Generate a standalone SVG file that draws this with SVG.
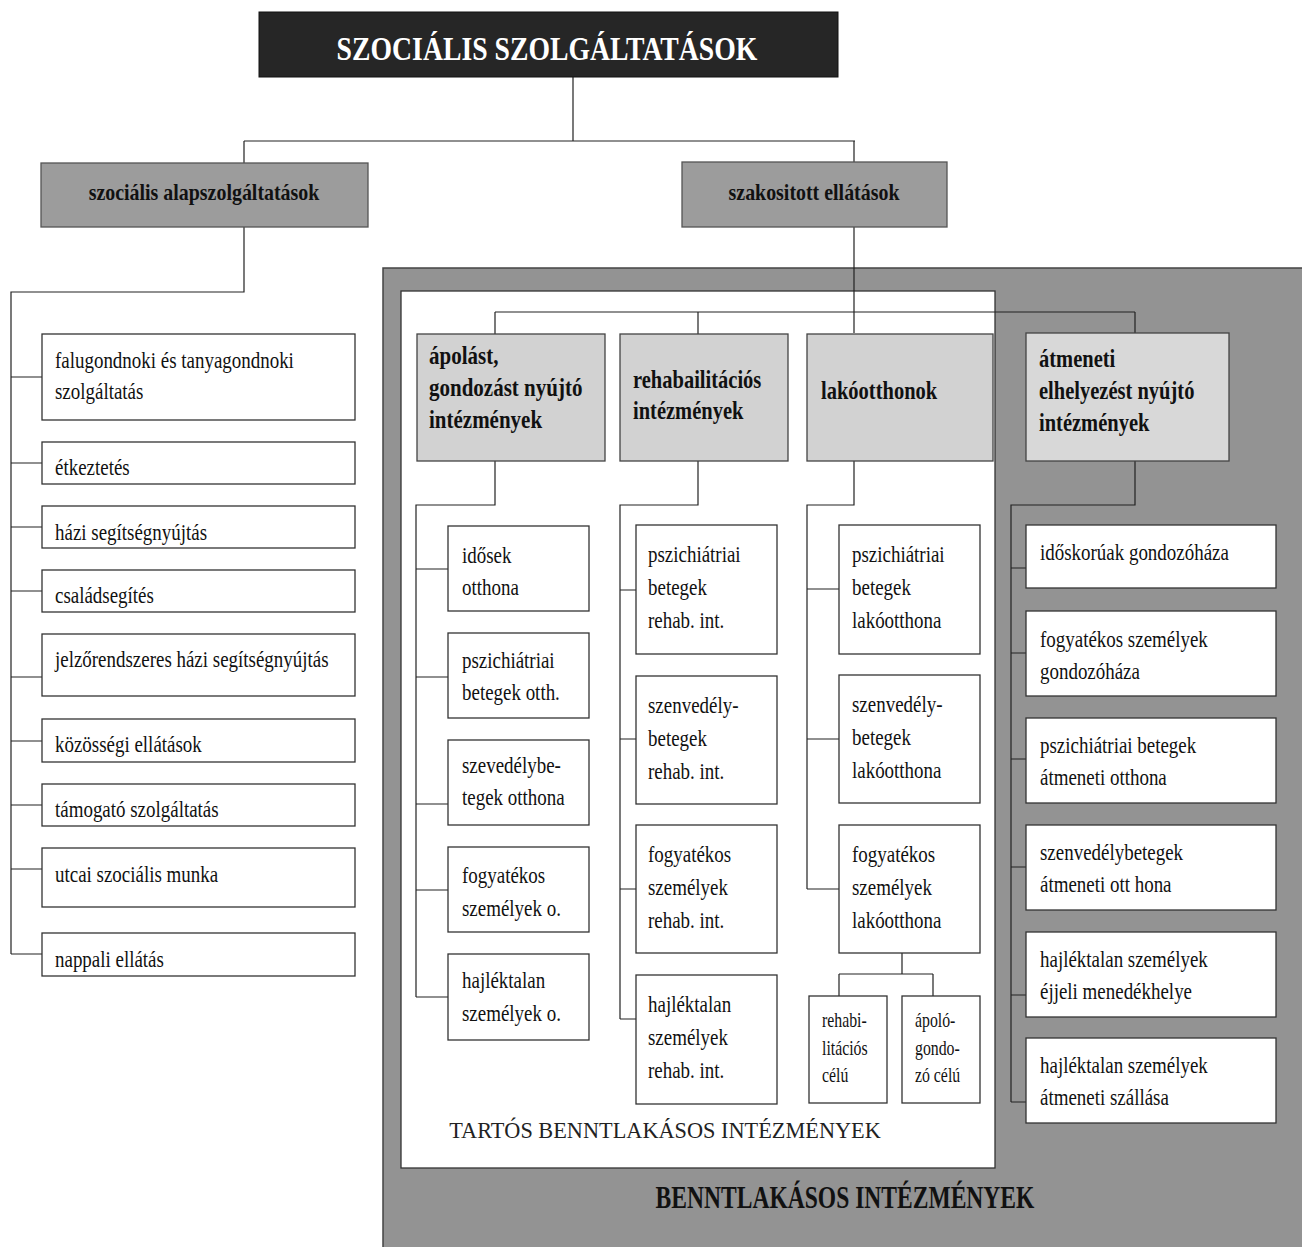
<svg xmlns="http://www.w3.org/2000/svg" width="1302" height="1247" viewBox="0 0 1302 1247">
<style>
.t{font-family:"Liberation Serif","Times New Roman",serif;font-size:24px;fill:#111}
.b{font-weight:bold}
.box{fill:#fff;stroke:#333;stroke-width:1.3}
.hdr{fill:#d2d2d2;stroke:#444;stroke-width:1.3}
.mid{fill:#9c9c9c;stroke:#555;stroke-width:1.3}
.con{stroke:#222;stroke-width:1.2;fill:none}
</style>
<rect width="1302" height="1247" fill="#fff"/>

<g id="containers">
<rect x="383" y="268" width="925" height="985" fill="#939393" stroke="#444" stroke-width="1.5"/>
<rect x="401" y="291" width="594" height="877" fill="#fff" stroke="#333" stroke-width="1.3"/>
<text class="t" transform="translate(665,1138) scale(.97 1)" text-anchor="middle" style="font-size:23px;fill:#222">TARTÓS BENNTLAKÁSOS INTÉZMÉNYEK</text>
<text class="t b" transform="translate(845,1208) scale(.76 1)" text-anchor="middle" style="font-size:31px">BENNTLAKÁSOS INTÉZMÉNYEK</text>
</g>

<g id="connectors">
<path class="con" d="M573 77V141M244 141H855M244 141V163M854 141V163"/>
<path class="con" d="M244 227V292H11V954"/>
<path class="con" d="M11 377H42M11 463H42M11 527H42M11 591H42M11 677H42M11 741H42M11 805H42M11 869H42M11 954H42"/>
<path class="con" d="M854 227V333M495 312H1135M495 312V334M698 312V334M1135 312V333"/>
<path class="con" d="M495 461V505H416V997M416 569H448M416 677H448M416 804H448M416 890H448M416 997H448"/>
<path class="con" d="M698 461V505H620V1019M620 590H636M620 739H636M620 889H636M620 1019H636"/>
<path class="con" d="M854 461V505H807V889M807 589H839M807 739H839M807 889H839"/>
<path class="con" d="M902 953V974M839 974H933M839 974V996M933 974V996"/>
<path class="con" d="M1135 461V505H1011V1102M1011 568H1026M1011 653H1026M1011 759H1026M1011 867H1026M1011 995H1026M1011 1102H1026"/>
</g>

<g id="title">
<rect x="259" y="12" width="579" height="65" fill="#262626" stroke="#111"/>
<text class="t b" transform="translate(547,60) scale(.84 1)" text-anchor="middle" style="font-size:33px;fill:#fff">SZOCIÁLIS SZOLGÁLTATÁSOK</text>
</g>

<g id="alap">
<rect class="mid" x="41" y="163" width="327" height="64"/>
<text class="t b" transform="translate(204,200) scale(.83 1)" text-anchor="middle">szociális  alapszolgáltatások</text>
</g>
<g id="szak">
<rect class="mid" x="682" y="162" width="265" height="65"/>
<text class="t b" transform="translate(814,200) scale(.83 1)" text-anchor="middle">szakositott ellátások</text>
</g>

<g id="falu"><rect class="box" x="42" y="334" width="313" height="86"/>
<text class="t" transform="translate(55,368) scale(.79 1)"><tspan x="0">falugondnoki  és tanyagondnoki</tspan><tspan x="0" dy="31">szolgáltatás</tspan></text></g>
<g id="etk"><rect class="box" x="42" y="442" width="313" height="42"/>
<text class="t" transform="translate(55,475) scale(.79 1)">étkeztetés</text></g>
<g id="hazi"><rect class="box" x="42" y="506" width="313" height="42"/>
<text class="t" transform="translate(55,540) scale(.79 1)">házi segítségnyújtás</text></g>
<g id="csal"><rect class="box" x="42" y="570" width="313" height="42"/>
<text class="t" transform="translate(55,603) scale(.79 1)">családsegítés</text></g>
<g id="jelzo"><rect class="box" x="42" y="634" width="313" height="62"/>
<text class="t" transform="translate(55,667) scale(.79 1)">jelzőrendszeres házi segítségnyújtás</text></g>
<g id="kozos"><rect class="box" x="42" y="719" width="313" height="43"/>
<text class="t" transform="translate(55,752) scale(.79 1)">közösségi ellátások</text></g>
<g id="tamog"><rect class="box" x="42" y="784" width="313" height="42"/>
<text class="t" transform="translate(55,817) scale(.79 1)">támogató szolgáltatás</text></g>
<g id="utcai"><rect class="box" x="42" y="848" width="313" height="59"/>
<text class="t" transform="translate(55,882) scale(.79 1)">utcai szociális munka</text></g>
<g id="nappali"><rect class="box" x="42" y="933" width="313" height="43"/>
<text class="t" transform="translate(55,967) scale(.79 1)">nappali ellátás</text></g>

<g id="apolast"><rect class="hdr" x="417" y="334" width="188" height="127"/>
<text class="t b" transform="translate(429,364) scale(.84 1)" style="font-size:25px"><tspan x="0">ápolást,</tspan><tspan x="0" dy="32">gondozást nyújtó</tspan><tspan x="0" dy="32">intézmények</tspan></text></g>
<g id="rehab"><rect class="hdr" x="620" y="334" width="168" height="127"/>
<text class="t b" transform="translate(633,388) scale(.82 1)" style="font-size:25px"><tspan x="0">rehabailitációs</tspan><tspan x="0" dy="31">intézmények</tspan></text></g>
<g id="lako"><rect class="hdr" x="807" y="334" width="186" height="127"/>
<text class="t b" transform="translate(821,399) scale(.82 1)" style="font-size:25px">lakóotthonok</text></g>
<g id="atmeneti"><rect class="hdr" x="1026" y="333" width="203" height="128" style="fill:#d8d8d8"/>
<text class="t b" transform="translate(1039,367) scale(.82 1)" style="font-size:25px"><tspan x="0">átmeneti</tspan><tspan x="0" dy="32">elhelyezést nyújtó</tspan><tspan x="0" dy="32">intézmények</tspan></text></g>

<g id="idosek"><rect class="box" x="448" y="526" width="141" height="85"/>
<text class="t" transform="translate(462,563) scale(.79 1)"><tspan x="0">idősek</tspan><tspan x="0" dy="32">otthona</tspan></text></g>
<g id="pszi1"><rect class="box" x="448" y="633" width="141" height="85"/>
<text class="t" transform="translate(462,668) scale(.79 1)"><tspan x="0">pszichiátriai</tspan><tspan x="0" dy="32">betegek otth.</tspan></text></g>
<g id="szev1"><rect class="box" x="448" y="740" width="141" height="85"/>
<text class="t" transform="translate(462,773) scale(.79 1)"><tspan x="0">szevedélybe-</tspan><tspan x="0" dy="32">tegek otthona</tspan></text></g>
<g id="fogy1"><rect class="box" x="448" y="847" width="141" height="85"/>
<text class="t" transform="translate(462,883) scale(.79 1)"><tspan x="0">fogyatékos</tspan><tspan x="0" dy="33">személyek o.</tspan></text></g>
<g id="hajl1"><rect class="box" x="448" y="954" width="141" height="86"/>
<text class="t" transform="translate(462,988) scale(.79 1)"><tspan x="0">hajléktalan</tspan><tspan x="0" dy="33">személyek o.</tspan></text></g>

<g id="pszi2"><rect class="box" x="636" y="525" width="141" height="129"/>
<text class="t" transform="translate(648,562) scale(.79 1)"><tspan x="0">pszichiátriai</tspan><tspan x="0" dy="33">betegek</tspan><tspan x="0" dy="33">rehab. int.</tspan></text></g>
<g id="szenv2"><rect class="box" x="636" y="676" width="141" height="128"/>
<text class="t" transform="translate(648,713) scale(.79 1)"><tspan x="0">szenvedély-</tspan><tspan x="0" dy="33">betegek</tspan><tspan x="0" dy="33">rehab. int.</tspan></text></g>
<g id="fogy2"><rect class="box" x="636" y="825" width="141" height="128"/>
<text class="t" transform="translate(648,862) scale(.79 1)"><tspan x="0">fogyatékos</tspan><tspan x="0" dy="33">személyek</tspan><tspan x="0" dy="33">rehab. int.</tspan></text></g>
<g id="hajl2"><rect class="box" x="636" y="975" width="141" height="129"/>
<text class="t" transform="translate(648,1012) scale(.79 1)"><tspan x="0">hajléktalan</tspan><tspan x="0" dy="33">személyek</tspan><tspan x="0" dy="33">rehab. int.</tspan></text></g>

<g id="pszi3"><rect class="box" x="839" y="525" width="141" height="129"/>
<text class="t" transform="translate(852,562) scale(.79 1)"><tspan x="0">pszichiátriai</tspan><tspan x="0" dy="33">betegek</tspan><tspan x="0" dy="33">lakóotthona</tspan></text></g>
<g id="szenv3"><rect class="box" x="839" y="675" width="141" height="128"/>
<text class="t" transform="translate(852,712) scale(.79 1)"><tspan x="0">szenvedély-</tspan><tspan x="0" dy="33">betegek</tspan><tspan x="0" dy="33">lakóotthona</tspan></text></g>
<g id="fogy3"><rect class="box" x="839" y="825" width="141" height="128"/>
<text class="t" transform="translate(852,862) scale(.79 1)"><tspan x="0">fogyatékos</tspan><tspan x="0" dy="33">személyek</tspan><tspan x="0" dy="33">lakóotthona</tspan></text></g>
<g id="rehabcelu"><rect class="box" x="809" y="996" width="78" height="107"/>
<text class="t" transform="translate(822,1027) scale(.79 1)" style="font-size:20px"><tspan x="0">rehabi-</tspan><tspan x="0" dy="28">litációs</tspan><tspan x="0" dy="27">célú</tspan></text></g>
<g id="apolocelu"><rect class="box" x="902" y="996" width="78" height="107"/>
<text class="t" transform="translate(915,1027) scale(.79 1)" style="font-size:20px"><tspan x="0">ápoló-</tspan><tspan x="0" dy="28">gondo-</tspan><tspan x="0" dy="27">zó célú</tspan></text></g>

<g id="idoskor"><rect class="box" x="1026" y="525" width="250" height="63"/>
<text class="t" transform="translate(1040,560) scale(.79 1)">időskorúak gondozóháza</text></g>
<g id="fogy4"><rect class="box" x="1026" y="611" width="250" height="85"/>
<text class="t" transform="translate(1040,647) scale(.79 1)"><tspan x="0">fogyatékos személyek</tspan><tspan x="0" dy="32">gondozóháza</tspan></text></g>
<g id="pszi4"><rect class="box" x="1026" y="718" width="250" height="85"/>
<text class="t" transform="translate(1040,753) scale(.79 1)"><tspan x="0">pszichiátriai betegek</tspan><tspan x="0" dy="32">átmeneti otthona</tspan></text></g>
<g id="szenv4"><rect class="box" x="1026" y="825" width="250" height="85"/>
<text class="t" transform="translate(1040,860) scale(.79 1)"><tspan x="0">szenvedélybetegek</tspan><tspan x="0" dy="32">átmeneti ott hona</tspan></text></g>
<g id="hajl4"><rect class="box" x="1026" y="932" width="250" height="85"/>
<text class="t" transform="translate(1040,967) scale(.79 1)"><tspan x="0">hajléktalan személyek</tspan><tspan x="0" dy="32">éjjeli menedékhelye</tspan></text></g>
<g id="hajl5"><rect class="box" x="1026" y="1038" width="250" height="85"/>
<text class="t" transform="translate(1040,1073) scale(.79 1)"><tspan x="0">hajléktalan személyek</tspan><tspan x="0" dy="32">átmeneti szállása</tspan></text></g>
</svg>
